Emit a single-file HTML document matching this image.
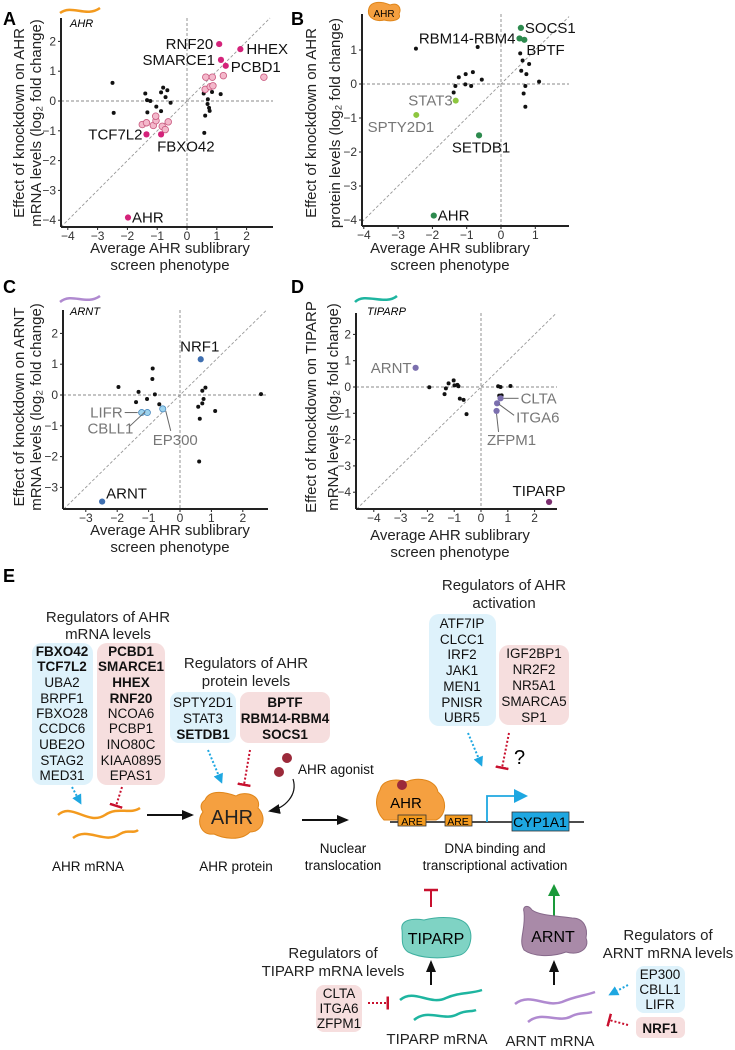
<!DOCTYPE html>
<html><head><meta charset="utf-8"><style>
html,body{margin:0;padding:0;background:#fff}
svg{display:block;font-family:"Liberation Sans",Arial,sans-serif}
.tk{font-size:12px;fill:#333}
.ax{font-size:15px;fill:#222}
.lb{font-size:15px;fill:#111}
.gl{font-size:15px;fill:#777}
.rl{font-size:13.5px;fill:#111}
.b{font-weight:bold}
</style></head><body>
<svg id="fig" width="735" height="1050" viewBox="0 0 735 1050" xmlns="http://www.w3.org/2000/svg">
<defs>
<marker id="ahB" markerUnits="userSpaceOnUse" markerWidth="12" markerHeight="10" refX="10" refY="5" orient="auto"><path d="M0,0 L12,5 L0,10z" fill="#111"/></marker>
<marker id="ahC" markerUnits="userSpaceOnUse" markerWidth="10" markerHeight="10" refX="7" refY="5" orient="auto"><path d="M0,0 L10,5 L0,10z" fill="#1ea7e1"/></marker>
<marker id="ahG" markerUnits="userSpaceOnUse" markerWidth="12" markerHeight="12" refX="6" refY="6" orient="auto"><path d="M0,0 L12,6 L0,12z" fill="#1a9a3a"/></marker>
<marker id="tR" markerUnits="userSpaceOnUse" markerWidth="3" markerHeight="13" refX="1.5" refY="6.5" orient="auto"><rect x="0" y="0" width="2.5" height="13" fill="#c8102e"/></marker>
</defs>
<g id="charts"></g>

<text x="3" y="25" font-size="18" font-weight="bold">A</text>
<text x="291" y="25" font-size="18" font-weight="bold">B</text>
<text x="3" y="293" font-size="18" font-weight="bold">C</text>
<text x="291" y="293" font-size="18" font-weight="bold">D</text>
<text x="3" y="582" font-size="18" font-weight="bold">E</text>

<g><path d="M60,13 C72,4 86,18 100,8" stroke="#f39a1e" stroke-width="2.5" fill="none"/><text x="70" y="27" font-size="11" font-style="italic">AHR</text></g>
<g><path d="M369,8 C372,0 384,2 390,5 C398,2 402,8 399,14 C402,20 392,22 384,20 C376,22 366,18 369,8z" fill="#f5a040" stroke="#e0861a"/><text x="384" y="17" font-size="10" text-anchor="middle">AHR</text></g>
<g><path d="M60,302 C72,292 86,306 100,296" stroke="#b08ad0" stroke-width="2.5" fill="none"/><text x="70" y="315" font-size="11" font-style="italic">ARNT</text></g>
<g><path d="M355,302 C365,292 385,306 397,296" stroke="#1eb5a0" stroke-width="2.5" fill="none"/><text x="367" y="315" font-size="11" font-style="italic">TIPARP</text></g>

<g id="panel-e">
<text x="108" y="622" text-anchor="middle" class="ax">Regulators of AHR</text>
<text x="108" y="639" text-anchor="middle" class="ax">mRNA levels</text>
<rect x="32" y="643" width="61" height="142" rx="10" fill="#def2fb"/>
<rect x="97" y="643" width="68" height="142" rx="10" fill="#f6dede"/>
<g class="rl" text-anchor="middle">
<text x="62" y="656" class="b">FBXO42</text><text x="62" y="671" class="b">TCF7L2</text><text x="62" y="687">UBA2</text><text x="62" y="703">BRPF1</text><text x="62" y="718">FBXO28</text><text x="62" y="733">CCDC6</text><text x="62" y="749">UBE2O</text><text x="62" y="765">STAG2</text><text x="62" y="780">MED31</text>
</g>
<g class="rl" text-anchor="middle">
<text x="131" y="656" class="b">PCBD1</text><text x="131" y="671" class="b">SMARCE1</text><text x="131" y="687" class="b">HHEX</text><text x="131" y="703" class="b">RNF20</text><text x="131" y="718">NCOA6</text><text x="131" y="733">PCBP1</text><text x="131" y="749">INO80C</text><text x="131" y="765">KIAA0895</text><text x="131" y="780">EPAS1</text>
</g>
<text x="246" y="668" text-anchor="middle" class="ax">Regulators of AHR</text>
<text x="246" y="686" text-anchor="middle" class="ax">protein levels</text>
<rect x="170" y="692" width="66" height="51" rx="9" fill="#def2fb"/>
<rect x="240" y="692" width="90" height="51" rx="9" fill="#f6dede"/>
<g class="rl" text-anchor="middle"><text x="203" y="707">SPTY2D1</text><text x="203" y="723">STAT3</text><text x="203" y="739" class="b">SETDB1</text></g>
<g class="rl" text-anchor="middle"><text x="285" y="707" class="b">BPTF</text><text x="285" y="723" class="b">RBM14-RBM4</text><text x="285" y="739" class="b">SOCS1</text></g>

<text x="504" y="590" text-anchor="middle" class="ax">Regulators of AHR</text>
<text x="504" y="608" text-anchor="middle" class="ax">activation</text>
<rect x="429" y="614" width="67" height="112" rx="10" fill="#def2fb"/>
<rect x="499" y="645" width="70" height="80" rx="10" fill="#f6dede"/>
<g class="rl" text-anchor="middle"><text x="462" y="628">ATF7IP</text><text x="462" y="644">CLCC1</text><text x="462" y="659">IRF2</text><text x="462" y="675">JAK1</text><text x="462" y="691">MEN1</text><text x="462" y="707">PNISR</text><text x="462" y="722">UBR5</text></g>
<g class="rl" text-anchor="middle"><text x="534" y="658">IGF2BP1</text><text x="534" y="674">NR2F2</text><text x="534" y="690">NR5A1</text><text x="534" y="706">SMARCA5</text><text x="534" y="722">SP1</text></g>

<g fill="none" stroke-width="2" stroke-dasharray="2,2">
<path d="M72,787 L80,802" stroke="#1ea7e1" marker-end="url(#ahC)"/>
<path d="M122,787 L116,806" stroke="#c8102e" marker-end="url(#tR)"/>
<path d="M208,750 L221,781" stroke="#1ea7e1" marker-end="url(#ahC)"/>
<path d="M250,750 L244,785" stroke="#c8102e" marker-end="url(#tR)"/>
<path d="M468,733 L481,764" stroke="#1ea7e1" marker-end="url(#ahC)"/>
<path d="M509,733 L502,768" stroke="#c8102e" marker-end="url(#tR)"/>
<path d="M368,1003 L388,1003" stroke="#c8102e" marker-end="url(#tR)"/>
<path d="M628,985 L611,994" stroke="#1ea7e1" marker-end="url(#ahC)"/>
<path d="M628,1025 L609,1020" stroke="#c8102e" marker-end="url(#tR)"/>
</g>
<text x="514" y="764" font-size="20">?</text>

<g stroke="#f39a1e" stroke-width="2.5" fill="none">
<path d="M58,815 C72,802 88,826 105,815 C118,806 130,815 140,808"/>
<path d="M73,838 C88,826 104,845 120,834 C128,829 134,834 138,830"/>
</g>
<text x="88" y="871" text-anchor="middle" class="rl">AHR mRNA</text>
<path d="M147,815 L192,815" stroke="#111" stroke-width="2" marker-end="url(#ahB)"/>
<path d="M205,800 C210,788 228,793 236,796 C246,790 262,796 258,808 C268,818 262,832 250,832 C240,842 222,838 214,834 C200,836 196,820 203,812 C199,806 202,802 205,800z" fill="#f5a040" stroke="#e0861a"/>
<text x="232" y="824" text-anchor="middle" font-size="20" fill="#222">AHR</text>
<text x="236" y="871" text-anchor="middle" class="rl">AHR protein</text>
<circle cx="287" cy="758" r="5" fill="#9b2a3a"/>
<circle cx="279" cy="772" r="5" fill="#9b2a3a"/>
<text x="298" y="774" class="rl">AHR agonist</text>
<path d="M293,779 C298,795 285,808 270,811" stroke="#111" stroke-width="1.2" fill="none" marker-end="url(#ahB)"/>
<path d="M302,820 L347,820" stroke="#111" stroke-width="2" marker-end="url(#ahB)"/>
<text x="343" y="853" text-anchor="middle" class="rl">Nuclear</text>
<text x="343" y="870" text-anchor="middle" class="rl">translocation</text>
<text x="495" y="853" text-anchor="middle" class="rl">DNA binding and</text>
<text x="495" y="870" text-anchor="middle" class="rl">transcriptional activation</text>

<path d="M380,790 C382,780 396,778 406,782 C418,776 436,780 438,792 C448,800 446,816 436,820 L384,820 C376,812 374,800 380,790z" fill="#f5a040" stroke="#e0861a"/>
<circle cx="402" cy="785" r="5" fill="#9b2a3a"/>
<text x="406" y="808" text-anchor="middle" font-size="15">AHR</text>
<line x1="390" y1="822" x2="584" y2="822" stroke="#111" stroke-width="1.5"/>
<rect x="398" y="815" width="28" height="11" fill="#f39a1e" stroke="#333" stroke-width="0.8"/>
<text x="412" y="825" text-anchor="middle" font-size="10.5">ARE</text>
<rect x="445" y="815" width="27" height="11" fill="#f39a1e" stroke="#333" stroke-width="0.8"/>
<text x="458" y="825" text-anchor="middle" font-size="10.5">ARE</text>
<path d="M487,822 L487,796 L515,796" stroke="#1ea7e1" stroke-width="1.8" fill="none"/>
<path d="M514,789 L528,796 L514,803z" fill="#1ea7e1"/>
<rect x="512" y="812" width="57" height="19" fill="#1ea7e1" stroke="#333" stroke-width="0.8"/>
<text x="540" y="827" text-anchor="middle" font-size="14">CYP1A1</text>

<path d="M431,907 L431,891" stroke="#c8102e" stroke-width="2"/>
<line x1="424" y1="890" x2="438" y2="890" stroke="#c8102e" stroke-width="2.5"/>
<path d="M402,930 C400,920 412,918 424,920 C440,916 462,916 468,926 C474,936 470,952 460,955 C440,960 420,958 408,952 C400,946 403,938 402,930z" fill="#7fd3c4" stroke="#3fb0a0"/>
<text x="436" y="944" text-anchor="middle" font-size="16">TIPARP</text>
<path d="M431,985 L431,962" stroke="#111" stroke-width="2" marker-end="url(#ahB)"/>
<g stroke="#1eb5a0" stroke-width="2.5" fill="none">
<path d="M400,1000 C414,988 430,1006 446,998 C460,992 470,994 482,990"/>
<path d="M414,1020 C428,1008 444,1022 458,1014 C466,1010 472,1012 476,1010"/>
</g>
<text x="437" y="1044" text-anchor="middle" class="ax">TIPARP mRNA</text>
<text x="333" y="958" text-anchor="middle" class="ax">Regulators of</text>
<text x="333" y="976" text-anchor="middle" class="ax">TIPARP mRNA levels</text>
<rect x="316" y="985" width="46" height="47" rx="8" fill="#f6dede"/>
<g class="rl" text-anchor="middle"><text x="339" y="998">CLTA</text><text x="339" y="1013">ITGA6</text><text x="339" y="1028">ZFPM1</text></g>

<path d="M554,917 L554,890" stroke="#1a9a3a" stroke-width="2" marker-end="url(#ahG)"/>
<path d="M524,912 C522,906 528,904 532,910 C540,916 560,916 572,918 C584,918 588,928 586,938 C590,948 580,956 566,952 C550,958 532,956 524,950 C518,940 526,930 524,912z" fill="#a98aa8" stroke="#86688a"/>
<text x="553" y="942" text-anchor="middle" font-size="16">ARNT</text>
<path d="M554,985 L554,962" stroke="#111" stroke-width="2" marker-end="url(#ahB)"/>
<g stroke="#b08ad0" stroke-width="2.5" fill="none">
<path d="M515,1004 C530,992 546,1008 562,1002 C576,996 584,996 595,992"/>
<path d="M528,1022 C542,1010 558,1024 572,1016 C580,1012 586,1014 592,1012"/>
</g>
<text x="550" y="1046" text-anchor="middle" class="ax">ARNT mRNA</text>
<text x="668" y="940" text-anchor="middle" class="ax">Regulators of</text>
<text x="668" y="958" text-anchor="middle" class="ax">ARNT mRNA levels</text>
<rect x="636" y="966" width="49" height="47" rx="8" fill="#def2fb"/>
<rect x="636" y="1017" width="49" height="21" rx="6" fill="#f6dede"/>
<g class="rl" text-anchor="middle"><text x="660" y="979">EP300</text><text x="660" y="994">CBLL1</text><text x="660" y="1009">LIFR</text><text x="660" y="1033" class="b">NRF1</text></g>
</g>
</svg>
<script>
// ===== Panel A data =====
const aX = [-2.50,-2.46,-1.40,-1.34,-1.23,-1.33,-1.03,-0.80,-0.87,-0.72,-0.87,-0.66,-0.55,0.56,0.84,0.61,0.74,0.70,0.69,0.76,1.13,0.58,
 0.63,0.85,1.22,2.58,0.61,0.78,0.87,-1.50,-1.36,-1.13,-1.04,-1.05,-0.83,-0.63,-0.73,
 1.08,1.79,1.14,1.30,-1.36,-0.87,-1.98];
const aY = [0.61,-0.40,0.25,0.03,0,-0.38,-0.19,0.45,0.29,0.13,-0.34,0.36,-0.06,0.25,0.30,-0.49,-0.23,0.06,-0.10,-0.33,0.23,-1.07,
 0.80,0.80,0.85,0.80,0.39,0.48,0.51,-0.79,-0.73,-0.82,-0.66,-0.51,-0.85,-0.70,-0.96,
 1.91,1.74,1.38,1.18,-1.12,-1.12,-3.91];
const aGroup = [0,0,0,0,0,0,0,0,0,0,0,0,0,0,0,0,0,0,0,0,0,0, 1,1,1,1,1,1,1,1,1,1,1,1,1,1,1, 2,2,2,2,2,2,2];
const aNames = ["","","","","","","","","","","","","","","","","","","","","","", "","","","","","","","","","","","","","","", "RNF20","HHEX","SMARCE1","PCBD1","TCF7L2","FBXO42","AHR"];
const aXTicks = [-4,-3,-2,-1,0,1,2];
const aYTicks = [-4,-3,-2,-1,0,1,2];
// ===== Panel B data =====
const bX = [-2.48,-0.68,-1.23,-1.03,-0.82,-0.56,-1.04,-0.87,-1.33,-1.38,0.56,0.63,0.82,0.59,0.74,1.11,0.71,0.66,0.71, 0.58,0.54,0.68,-0.64,-1.96, -1.32,-2.47];
const bY = [1.04,1.09,0.20,0.29,0.35,0.13,-0.01,-0.06,-0.06,-0.25,0.90,0.69,0.59,0.39,0.29,0.07,-0.06,-0.28,-0.67, 1.65,1.34,1.30,-1.51,-3.87, -0.49,-0.91];
const bGroup = [0,0,0,0,0,0,0,0,0,0,0,0,0,0,0,0,0,0,0, 2,2,2,2,2, 1,1];
const bNames = ["","","","","","","","","","","","","","","","","","","", "SOCS1","RBM14-RBM4","BPTF","SETDB1","AHR","STAT3","SPTY2D1"];
const bXTicks = [-4,-3,-2,-1,0,1];
const bYTicks = [-4,-3,-2,-1,0,1];
// ===== Panel C data =====
const cX = [-1.96,-1.32,-1.40,-1.05,-0.87,-0.88,-0.80,-0.66,0.81,0.71,0.75,0.71,0.58,0.63,1.12,0.61,2.58, -1.22,-1.04,-0.55, 0.66,-2.48];
const cY = [0.26,0.10,-0.23,-0.13,0.86,0.52,0.02,-0.30,0.24,0.14,-0.13,-0.27,-0.38,-0.77,-0.52,-2.16,0.03, -0.57,-0.57,-0.45, 1.16,-3.46];
const cGroup = [0,0,0,0,0,0,0,0,0,0,0,0,0,0,0,0,0, 1,1,1, 2,2];
const cNames = ["","","","","","","","","","","","","","","","","", "LIFR","CBLL1","EP300","NRF1","ARNT"];
const cXTicks = [-3,-2,-1,0,1,2];
const cYTicks = [-3,-2,-1,0,1,2];
// ===== Panel D data =====
const dX = [-1.93,-1.31,-1.21,-1.02,-0.99,-0.88,-0.84,-1.36,-0.79,-0.65,-0.54,0.64,0.73,1.10,0.68,0.77,0.70, -2.44,0.73,0.60,0.58, 2.54];
const dY = [-0.01,-0.05,0.14,0.25,0.06,0.08,0.03,-0.27,-0.44,-0.49,-1.03,0.03,0,0.04,-0.33,-0.32,-0.38, 0.73,-0.43,-0.62,-0.91, -4.37];
const dGroup = [0,0,0,0,0,0,0,0,0,0,0,0,0,0,0,0,0, 1,1,1,1, 2];
const dNames = ["","","","","","","","","","","","","","","","","", "ARNT","CLTA","ITGA6","ZFPM1","TIPARP"];
const dXTicks = [-4,-3,-2,-1,0,1,2];
const dYTicks = [-4,-3,-2,-1,0,1,2];

const NS = "http://www.w3.org/2000/svg";
const root = document.getElementById("charts");
function mk(tag, attrs, parent) {
  const e = document.createElementNS(NS, tag);
  for (const k in attrs) e.setAttribute(k, attrs[k]);
  (parent || root).appendChild(e);
  return e;
}
const panels = [
 {id:"a", xs:aX, ys:aY, g:aGroup, n:aNames, xt:aXTicks, yt:aYTicks, x0:187, ux:29.8, y0:101, uy:29.8, L:61, R:273, T:18, B:227,
  styles:[{r:2,f:"#111",s:"none"},{r:3.3,f:"#f4b8cb",s:"#c9597f"},{r:3.1,f:"#d4237a",s:"none"}],
  ytitle:["Effect of knockdown on AHR","mRNA levels (log\u2082 fold change)"], ytx:[19,36], yty:123, xtc:170, xty:[253,270],
  lab:{RNF20:["end",-6,5,"lb"],HHEX:["start",6,5,"lb"],SMARCE1:["end",-6,5,"lb"],PCBD1:["start",5,6,"lb"],TCF7L2:["end",-4,5,"lb"],FBXO42:["start",-4,17,"lb"],AHR:["start",4,5,"lb"]}},
 {id:"b", xs:bX, ys:bY, g:bGroup, n:bNames, xt:bXTicks, yt:bYTicks, x0:501, ux:34.3, y0:84, uy:34, L:362, R:569, T:14, B:226,
  styles:[{r:2,f:"#111",s:"none"},{r:3,f:"#8dc63f",s:"none"},{r:3.1,f:"#2d8a4e",s:"none"}],
  ytitle:["Effect of knockdown on AHR","protein levels (log\u2082 fold change)"], ytx:[311,335], yty:123, xtc:450, xty:[253,270],
  lab:{SOCS1:["start",4,5,"lb"],"RBM14-RBM4":["end",-4,5,"lb"],BPTF:["start",2,15,"lb"],SETDB1:["middle",2,17,"lb"],AHR:["start",4,5,"lb"],STAT3:["end",-3,5,"gl"],SPTY2D1:["end",18,17,"gl"]}},
 {id:"c", xs:cX, ys:cY, g:cGroup, n:cNames, xt:cXTicks, yt:cYTicks, x0:180, ux:31.4, y0:395, uy:30.8, L:63, R:268, T:310, B:509,
  styles:[{r:2,f:"#111",s:"none"},{r:3.1,f:"#9dd3ee",s:"#4a8abf"},{r:3.1,f:"#3f6fb0",s:"none"}],
  ytitle:["Effect of knockdown on ARNT","mRNA levels (log\u2082 fold change)"], ytx:[19,36], yty:407, xtc:170, xty:[535,552],
  lab:{NRF1:["middle",-1,-8,"lb"],ARNT:["start",4,-3,"lb"],LIFR:["end",-19,5,"gl",[-17,0,-4,0]],CBLL1:["end",-14,21,"gl",[-18,14,-2,-1]],EP300:["start",-10,36,"gl",[3,2,8,22]]}},
 {id:"d", xs:dX, ys:dY, g:dGroup, n:dNames, xt:dXTicks, yt:dYTicks, x0:481, ux:26.8, y0:387, uy:26.3, L:356, R:557, T:313, B:509,
  styles:[{r:2,f:"#111",s:"none"},{r:3.1,f:"#7b6fae",s:"none"},{r:3.1,f:"#7a2d6e",s:"none"}],
  ytitle:["Effect of knockdown on TIPARP","mRNA levels (log\u2082 fold change)"], ytx:[311,333], yty:407, xtc:450, xty:[540,557],
  lab:{ARNT:["end",-4,5,"gl"],CLTA:["start",20,5,"gl",[3,0,18,0]],ITGA6:["start",19,19,"gl",[2,1,17,12]],ZFPM1:["middle",15,34,"gl",[0,3,2,21]],TIPARP:["middle",-10,-6,"lb"]}}
];
panels.forEach(p => {
  const g = mk("g", {});
  
  
  const sx = v => p.x0 + v * p.ux, sy = v => p.y0 - v * p.uy;
  const xmin = (p.L - p.x0) / p.ux, xmax = (p.R - p.x0) / p.ux, ymin = (p.y0 - p.B) / p.uy, ymax = (p.y0 - p.T) / p.uy;
  const hz = mk("line", {x1:p.L, x2:p.R, y1:sy(0), y2:sy(0), stroke:"#888", "stroke-dasharray":"3,2", "stroke-width":0.9}, g);
  
  
  const vz = mk("line", {x1:sx(0), x2:sx(0), y1:p.T, y2:p.B, stroke:"#888", "stroke-dasharray":"3,2", "stroke-width":0.9}, g);
  
  
  const lo = Math.max(xmin, ymin), hi = Math.min(xmax, ymax);
  const dg = mk("line", {x1:sx(lo), y1:sy(lo), x2:sx(hi), y2:sy(hi), stroke:"#999", "stroke-dasharray":"3,2", "stroke-width":0.9}, g);
  
  
  const xa = mk("line", {x1:p.L, x2:p.R, y1:p.B, y2:p.B, stroke:"#222", "stroke-width":2}, g);
  
  
  const ya = mk("line", {x1:p.L, x2:p.L, y1:p.T, y2:p.B, stroke:"#222", "stroke-width":2}, g);
  
  
  p.xt.forEach(t => {
    mk("line", {x1:sx(t), x2:sx(t), y1:p.B, y2:p.B + 3, stroke:"#222"}, g);
    const tl = mk("text", {x:sx(t), y:p.B + 13, "text-anchor":"middle", class:"tk"}, g);
    tl.textContent = t < 0 ? "\u2212" + Math.abs(t) : String(t);
    
    
  });
  p.yt.forEach(t => {
    mk("line", {x1:p.L - 3, x2:p.L, y1:sy(t), y2:sy(t), stroke:"#222"}, g);
    const tl = mk("text", {x:p.L - 5, y:sy(t) + 4, "text-anchor":"end", class:"tk"}, g);
    tl.textContent = t < 0 ? "\u2212" + Math.abs(t) : String(t);
    
    
  });
  p.ytitle.forEach((s, i) => {
    const t = mk("text", {x:0, y:0, "text-anchor":"middle", class:"ax", transform:`translate(${p.ytx[i] + 5},${p.yty}) rotate(-90)`}, g);
    t.textContent = s;
    
    
  });
  ["Average AHR sublibrary", "screen phenotype"].forEach((s, i) => {
    const t = mk("text", {x:p.xtc, y:p.xty[i], "text-anchor":"middle", class:"ax"}, g);
    t.textContent = s;
    
    
  });
  [0, 1, 2].forEach(grp => {
    p.xs.forEach((v, i) => {
      if (p.g[i] !== grp) return;
      const st = p.styles[grp];
      const c = mk("circle", {cx:sx(v), cy:sy(p.ys[i]), r:st.r, fill:st.f, stroke:st.s, "stroke-width":0.8}, g);
      
      
      const nm = p.n[i];
      if (nm && p.lab[nm]) {
        const L = p.lab[nm], px = sx(v), py = sy(p.ys[i]);
        if (L[4]) {
          const ln = mk("line", {x1:px + L[4][0], y1:py + L[4][1], x2:px + L[4][2], y2:py + L[4][3], stroke:"#666", "stroke-width":1}, g);
          
          
        }
        const t = mk("text", {x:px + L[1], y:py + L[2], "text-anchor":L[0], class:L[3]}, g);
        t.textContent = nm;
        
        
      }
    });
  });
});
</script>
</body></html>
